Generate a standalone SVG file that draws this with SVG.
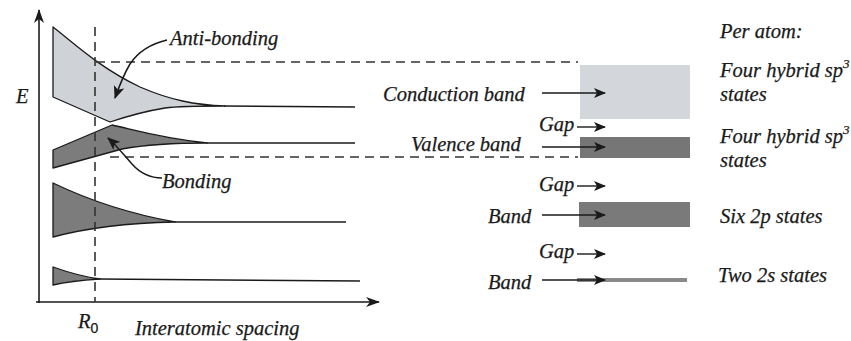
<svg xmlns="http://www.w3.org/2000/svg" width="851" height="341" viewBox="0 0 851 341">
  <style>
    .t { font-family: "Liberation Serif", "Times New Roman", serif; font-style: italic; font-size: 20.5px; fill: #1a1a1a; stroke: #1a1a1a; stroke-width: 0.25; }
    .edge { stroke: #1a1a1a; stroke-width: 1.3; stroke-linejoin: round; }
    .line { fill: none; stroke: #1a1a1a; stroke-width: 1.4; }
    .dash { fill: none; stroke: #333; stroke-width: 1.6; stroke-dasharray: 9 6; }
    .ptr { fill: none; stroke: #1a1a1a; stroke-width: 1.4; marker-end: url(#head); }
    .lead { fill: none; stroke: #1a1a1a; stroke-width: 1.5; marker-end: url(#lead); }
    .light { fill: #cfd2d6; }
    .dark { fill: #7c7c7c; }
  </style>
  <defs>
    <marker id="head" viewBox="0 0 12 10" refX="11" refY="5" markerWidth="12" markerHeight="10" markerUnits="userSpaceOnUse" orient="auto">
      <path d="M0,0 L12,5 L0,10 L3,5 Z" fill="#1a1a1a"/>
    </marker>
    <marker id="lead" viewBox="0 0 12 10" refX="11" refY="5" markerWidth="13" markerHeight="11" markerUnits="userSpaceOnUse" orient="auto">
      <path d="M0,0 L12,5 L0,10 L3,5 Z" fill="#1a1a1a"/>
    </marker>
    <marker id="axis" viewBox="0 0 14 10" refX="13" refY="5" markerWidth="14" markerHeight="10" markerUnits="userSpaceOnUse" orient="auto">
      <path d="M0,0 L14,5 L0,10 L4,5 Z" fill="#1a1a1a"/>
    </marker>
  </defs>

  <rect width="851" height="341" fill="#ffffff"/>

  <!-- axes -->
  <g id="axes">
    <line x1="39" y1="303" x2="39" y2="10" stroke="#1a1a1a" stroke-width="1.6" marker-end="url(#axis)"/>
    <line x1="36" y1="302" x2="379" y2="302" stroke="#1a1a1a" stroke-width="1.6" marker-end="url(#axis)"/>
    <text class="t" x="16" y="103" stroke-width="0.5">E</text>
    <text class="t" x="78" y="328">R<tspan font-family="Liberation Sans, Arial, sans-serif" font-style="normal" font-size="14" dy="5">0</tspan></text>
    <text class="t" x="135" y="335">Interatomic spacing</text>
  </g>

  <!-- energy bands versus spacing -->
  <g id="antibonding">
    <path class="light edge" d="M53,27 C75,44 100,68 140,87 C170,100 195,105 225,106 C200,106 180,106 165,108 C140,112 125,117 110,122 L53,97 Z"/>
    <path class="line" d="M224,106 L355,107"/>
  </g>
  <g id="bonding">
    <path class="dark edge" d="M53,150 L112,125 C135,130 160,138 207,143 C185,143 150,144 122,149 L53,168 Z"/>
    <path class="line" d="M206,143 L355,143"/>
  </g>
  <g id="band-2p">
    <path class="dark edge" d="M53,183 C80,196 120,212 175,222 C130,223 90,227 53,237 Z"/>
    <path class="line" d="M174,222 L346,222"/>
  </g>
  <g id="band-2s">
    <path class="dark edge" d="M53,267 C70,273 85,277 100,279 C85,280 70,281 53,285 Z"/>
    <path class="line" d="M99,279 L360,281"/>
  </g>

  <!-- equilibrium spacing and band edges -->
  <g id="guides">
    <line class="dash" x1="95" y1="27" x2="95" y2="302"/>
    <line class="dash" x1="96" y1="62" x2="578" y2="62"/>
    <line class="dash" x1="110" y1="157" x2="578" y2="157"/>
  </g>

  <!-- band blocks at R0 -->
  <g id="conduction-band">
    <rect x="580" y="65" width="110" height="54" fill="#d3d6da"/>
  </g>
  <g id="valence-band">
    <rect x="580" y="137" width="110" height="21" fill="#767676"/>
  </g>
  <g id="band-2p-block">
    <rect x="579" y="202" width="111" height="25" fill="#7a7a7a"/>
  </g>
  <g id="band-2s-block">
    <rect x="577" y="278" width="110" height="4" fill="#8a8a8a"/>
  </g>

  <!-- labels and pointers -->
  <g id="connectors">
    <path class="lead" d="M167,40 C150,44 138,52 130,64 C124,74 120,84 115,98"/>
    <path class="lead" d="M162,178 C150,178 140,173 132,164 C124,155 117,146 108,138"/>
    <line class="ptr" x1="542" y1="93" x2="605" y2="93"/>
    <line class="ptr" x1="577" y1="127" x2="605" y2="127"/>
    <line class="ptr" x1="542" y1="147" x2="605" y2="147"/>
    <line class="ptr" x1="577" y1="186" x2="605" y2="186"/>
    <line class="ptr" x1="542" y1="215" x2="605" y2="215"/>
    <line class="ptr" x1="577" y1="254" x2="605" y2="254"/>
    <line class="ptr" x1="542" y1="280" x2="605" y2="280"/>
  </g>

  <g id="labels">
    <text class="t" x="170" y="45">Anti-bonding</text>
    <text class="t" x="162" y="188">Bonding</text>
    <text class="t" x="383" y="101">Conduction band</text>
    <text class="t" x="539" y="131">Gap</text>
    <text class="t" x="411" y="151">Valence band</text>
    <text class="t" x="539" y="191">Gap</text>
    <text class="t" x="488" y="223">Band</text>
    <text class="t" x="539" y="258">Gap</text>
    <text class="t" x="488" y="289">Band</text>
    <text class="t" x="720" y="38">Per atom:</text>
    <text class="t" x="720" y="77">Four hybrid sp<tspan font-size="13" dy="-9">3</tspan></text>
    <text class="t" x="720" y="101">states</text>
    <text class="t" x="720" y="143">Four hybrid sp<tspan font-size="13" dy="-9">3</tspan></text>
    <text class="t" x="720" y="167">states</text>
    <text class="t" x="720" y="223">Six 2p states</text>
    <text class="t" x="718" y="282">Two 2s states</text>
  </g>
</svg>
